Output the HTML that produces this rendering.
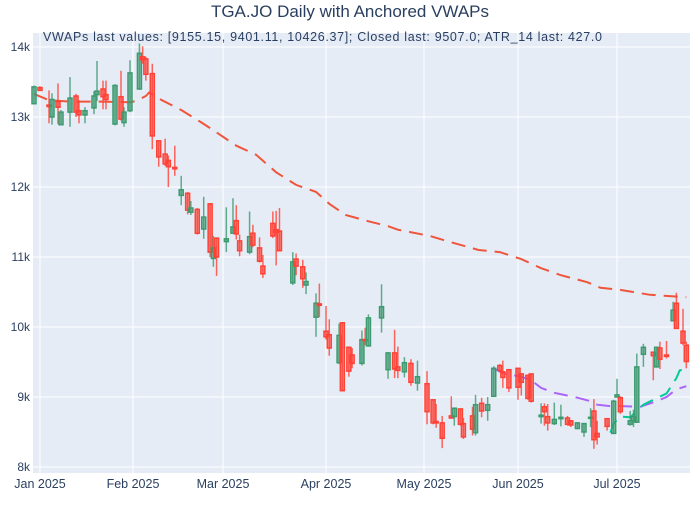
<!DOCTYPE html>
<html><head><meta charset="utf-8"><style>
body{margin:0;background:#fff;font-family:"Liberation Sans",sans-serif}
svg text{font-family:"Liberation Sans",sans-serif;fill:#2a3f5f}
</style></head><body>
<svg id="chart" width="700" height="500" xmlns="http://www.w3.org/2000/svg">
<rect x="0" y="0" width="700" height="500" fill="#fff"/>
<rect x="33" y="33" width="657" height="440" fill="#E5ECF6"/>
<g id="grid"></g>
<g id="vwaps"></g>
<g id="candles"></g>
<g id="axes"></g>
<text x="350" y="17" text-anchor="middle" font-size="17">TGA.JO Daily with Anchored VWAPs</text>
<text x="43" y="41" font-size="12.5" textLength="559" lengthAdjust="spacing">VWAPs last values: [9155.15, 9401.11, 10426.37]; Closed last: 9507.0; ATR_14 last: 427.0</text>
</svg>
<script>
// days since 2025-01-01
const days=[-2,0,3,4,6,7,10,12,13,15,18,19,21,22,25,27,28,30,33,34,35,37,39,41,42,44,46,48,49,51,53,55,56,57,60,62,63,64,67,68,70,71,74,75,76,80,81,83,84,87,88,90,91,94,95,97,98,101,102,103,107,109,111,112,114,116,118,121,123,124,126,129,130,132,133,136,137,139,141,143,145,146,148,151,152,154,155,158,159,160,162,164,166,167,169,171,173,174,175,178,180,181,182,185,186,187,189,192,193,194,196,198,199,201,202];
const opens=[13190,13420,13170,13000,13220,12890,13070,13300,13090,13030,13130,13320,13400,13320,12900,13290,12920,13090,13400,13860,13830,13620,12660,12470,12380,12280,11880,11910,11640,11680,11400,11760,10980,11270,11220,11340,11520,11230,11070,11340,11130,10870,11480,11390,11370,10630,10970,10860,10600,10140,10330,9940,9890,9490,10060,9710,9600,9480,9820,9730,10130,9390,9630,9430,9360,9480,9200,9190,8960,8650,8630,8730,8720,8830,8620,8730,8490,8910,8810,9010,9450,9360,9390,9410,9330,9310,9330,8720,8860,8720,8620,8690,8700,8660,8550,8500,8700,8800,8480,8690,8480,9000,8990,8610,8660,8640,9610,9640,9430,9700,9600,10090,10340,9940,9740];
const highs=[13450,13440,13380,13340,13480,13100,13570,13330,13240,13140,13370,13800,13520,13520,13470,13660,13140,13810,14050,14010,13860,13760,12670,12690,12450,12590,12160,11930,11800,11700,11860,11770,11300,11270,11710,11840,11740,11320,11650,11460,11280,11030,11650,11660,11700,11070,11050,10960,10780,10480,10620,10300,10110,10050,10070,9720,9700,9950,9990,10180,10610,9640,9960,9720,9570,9540,9520,9370,8960,8900,8730,9010,8840,8830,8700,8860,9030,8990,9000,9440,9470,9520,9400,9410,9330,9310,9330,8910,8910,8900,8920,8890,8730,8670,8640,8620,8840,8970,8660,8690,8960,9260,9010,8800,8820,9620,9760,9640,9720,9790,9800,10360,10490,10260,9790];
const lows=[13180,13370,12910,12890,12900,12880,12860,13000,12910,12910,13040,13230,13110,13110,12880,12950,12860,13070,13390,13760,13520,12540,12290,12300,12000,12160,11740,11610,11600,11320,11260,11000,10860,10730,11070,11340,11250,11010,11040,11140,10920,10700,11270,10880,11080,10600,10740,10560,10470,9860,10140,9820,9590,9470,9080,9290,9410,9450,9740,9720,9920,9260,9270,9270,9280,9160,9090,8610,8610,8560,8270,8690,8590,8590,8400,8450,8450,8710,8660,9000,9350,9130,9070,8960,9020,8960,8920,8620,8590,8520,8600,8580,8590,8570,8540,8430,8570,8260,8320,8520,8480,9000,8760,8590,8570,8640,9430,9240,9420,9400,9550,10090,9980,9740,9410];
const closes=[13430,13380,13150,13250,13140,13070,13270,13070,13030,13090,13300,13370,13290,13250,13450,12970,13070,13630,13910,13820,13610,12730,12430,12330,12290,12260,11960,11670,11700,11340,11570,11070,11130,11000,11260,11430,11330,11090,11290,11170,10940,10760,11300,11350,11090,10930,10870,10690,10650,10340,10310,9860,9700,9880,9090,9370,9480,9820,9810,10130,10290,9630,9400,9380,9490,9210,9290,8790,8630,8630,8410,8700,8840,8610,8430,8540,8890,8800,8890,9410,9380,9280,9130,9140,9210,8980,8940,8740,8790,8630,8680,8710,8610,8600,8630,8620,8710,8390,8430,8580,8940,9030,8790,8660,8720,9430,9710,9590,9710,9540,9580,10240,9980,9770,9507];
// anchored VWAPs
const vwapRedDays=[-2,3,10,21,30,32,35,36,40,46,52,56,63,69,75,81,87,91,96,103,109,112,122,129,138,145,152,158,164,172,176,182,191,202];
const vwapRedVals=[13330,13240,13220,13220,13210,13230,13300,13350,13240,13100,12930,12810,12590,12460,12210,12030,11930,11760,11600,11510,11440,11390,11300,11210,11100,11070,10970,10840,10740,10640,10560,10530,10460,10426];
const vwapPurpleDays=[143,146,152,155,158,162,169,173,175,179,182,188,193,196,199,202];
const vwapPurpleVals=[9410,9340,9290,9240,9130,9060,8990,8940,8890,8870,8870,8860,8940,9000,9110,9155];
const vwapGreenDays=[179,180,182,185,187,189,192,196,199,200,202];
const vwapGreenVals=[8490,8620,8720,8710,8800,8890,8960,9050,9270,9380,9401];
const yTicks=[8000,9000,10000,11000,12000,13000,14000];
const yTickLabels=["8k","9k","10k","11k","12k","13k","14k"];
const xTickDays=[0,31,59,90,120,151,181];
const xTickLabels=["Jan 2025","Feb 2025","Mar 2025","Apr 2025","May 2025","Jun 2025","Jul 2025"];

const NS="http://www.w3.org/2000/svg";
// time axis: month anchors (day -> px)
const axDays=[0,31,59,90,120,151,181];
const axPx=[40,133,223,326,424,518,617];
function xS(d){
  let i=0;
  while(i<axDays.length-2 && d>axDays[i+1]) i++;
  const s=(axPx[i+1]-axPx[i])/(axDays[i+1]-axDays[i]);
  return axPx[i]+(d-axDays[i])*s;
}
const yS=p=>47+(14000-p)*0.07;
function mk(tag,attrs,parent){const e=document.createElementNS(NS,tag);for(const k in attrs)e.setAttribute(k,attrs[k]);parent.appendChild(e);return e;}
const grid=document.getElementById('grid'),axes=document.getElementById('axes');
yTicks.forEach((v,i)=>{
  const g=mk('line',{x1:33,x2:690,y1:yS(v),y2:yS(v),stroke:'#fff','stroke-width':1},grid);
  
  
  const t=mk('text',{x:30,y:yS(v)+4,'text-anchor':'end','font-size':12},axes);
  t.textContent=yTickLabels[i];
  
  
});
xTickDays.forEach((d,i)=>{
  const g=mk('line',{x1:xS(d),x2:xS(d),y1:33,y2:473,stroke:'#fff','stroke-width':1},grid);
  
  
  const t=mk('text',{x:xS(d),y:488,'text-anchor':'middle','font-size':12.5},axes);
  t.textContent=xTickLabels[i];
  
  
});
const vg=document.getElementById('vwaps');
function line(ds,vs,color,name){
  const pts=ds.map((d,i)=>xS(d).toFixed(1)+','+yS(vs[i]).toFixed(1)).join(' ');
  const p=mk('polyline',{points:pts,fill:'none',stroke:color,'stroke-width':2,'stroke-dasharray':'14,8'},vg);
  
  
}
line(vwapRedDays,vwapRedVals,'#EF553B','vwap-red');
line(vwapPurpleDays,vwapPurpleVals,'#AB63FA','vwap-purple');
line(vwapGreenDays,vwapGreenVals,'#00CC96','vwap-green');
const cg=document.getElementById('candles');
days.forEach((d,i)=>{
  const up=closes[i]>=opens[i];
  const col=up?'#3D9970':'#FF4136';
  const x=xS(d);
  const g=mk('g',{},cg);
  
  
  mk('line',{x1:x,x2:x,y1:yS(highs[i]),y2:yS(lows[i]),stroke:col,'stroke-width':1.5,'stroke-opacity':0.8},g);
  const top=yS(Math.max(opens[i],closes[i])),bot=yS(Math.min(opens[i],closes[i]));
  mk('rect',{x:x-2,y:top,width:4,height:Math.max(1,bot-top),fill:col,'fill-opacity':0.5,stroke:col,'stroke-width':1.5},g);
});
</script>
</body></html>
